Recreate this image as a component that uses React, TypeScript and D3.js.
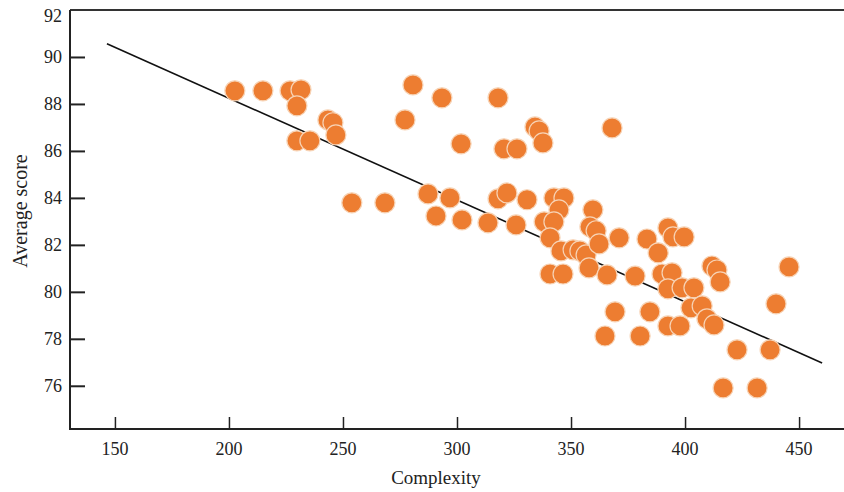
import React, { useEffect, useRef } from 'react';
import * as d3 from 'd3';

// Values, one entry per dot
const complexity = [
  202.6, 214.9, 226.8, 231.6, 229.8, 243.4, 245.6, 246.9, 229.8, 235.5,
  253.9, 268.4, 277.2, 280.7, 293.4, 318.0, 301.8, 320.6, 326.3, 334.2,
  336.0, 337.7, 368.0, 287.3, 296.9, 290.8, 302.2, 313.6, 318.0, 321.9,
  330.7, 342.5, 346.9, 344.7, 359.6, 325.9, 338.2, 342.5, 340.8, 345.6,
  350.9, 353.9, 356.6, 358.3, 361.0, 362.3, 371.1, 383.3, 388.2, 392.5,
  394.7, 399.6, 340.8, 346.5, 357.9, 365.8, 378.1, 389.9, 394.3, 392.5,
  398.7, 403.9, 411.8, 414.0, 415.4, 445.6, 369.3, 384.6, 392.5, 397.8,
  402.6, 407.5, 409.6, 412.7, 364.9, 380.3, 422.8, 437.3, 439.9, 416.7,
  431.6,
];
const avgScore = [
  88.56, 88.56, 88.56, 88.6, 87.92, 87.32, 87.2, 86.68, 86.43, 86.43,
  83.79, 83.79, 87.32, 88.81, 88.26, 88.26, 86.3, 86.09, 86.09, 87.02,
  86.85, 86.34, 86.98, 84.17, 84.0, 83.23, 83.06, 82.94, 83.96, 84.21,
  83.92, 84.0, 84.0, 83.49, 83.49, 82.85, 82.98, 82.98, 82.3, 81.74,
  81.79, 81.74, 81.57, 82.77, 82.6, 82.04, 82.3, 82.25, 81.66, 82.72,
  82.34, 82.34, 80.76, 80.76, 81.02, 80.72, 80.67, 80.76, 80.81, 80.13,
  80.17, 80.17, 81.1, 80.93, 80.42, 81.06, 79.15, 79.15, 78.55, 78.55,
  79.32, 79.4, 78.85, 78.59, 78.12, 78.12, 77.53, 77.53, 79.49, 75.91,
  75.91,
];

// Fitted line, start and end
const trendX = [146.5, 460.1];
const trendY = [90.56, 76.97];

const xTicks = [150, 200, 250, 300, 350, 400, 450];
const yTicks = [76, 78, 80, 82, 84, 86, 88, 90, 92];

const W = 844;
const H = 492;

const App = () => {
  const svgRef = useRef<SVGSVGElement | null>(null);

  useEffect(() => {
    if (!svgRef.current) return;
    const svg = d3.select(svgRef.current);
    svg.selectAll('*').remove();

    const left = 70, right = 844, top = 10, bottom = 429;
    const x = d3.scaleLinear().domain([130.3, 469.7]).range([left, right]);
    const y = d3.scaleLinear().domain([74.16, 92]).range([bottom, top]);

    const font = '"Liberation Serif", "Times New Roman", serif';
    const ink = '#222';

    // frame top line
    svg.append('line')
      .attr('x1', left).attr('x2', right)
      .attr('y1', top).attr('y2', top)
      .attr('stroke', '#333').attr('stroke-width', 2);

    // y axis
    const yAxis = svg.append('g').attr('transform', `translate(${left},0)`)
      .call(d3.axisRight(y).tickValues(yTicks.filter(v => v < 92)).tickSize(15).tickFormat(() => ''));
    yAxis.select('.domain').remove();
    yAxis.selectAll('line').attr('stroke', ink).attr('stroke-width', 2);
    svg.append('line')
      .attr('x1', left).attr('x2', left).attr('y1', top).attr('y2', bottom + 1)
      .attr('stroke', ink).attr('stroke-width', 2);

    svg.append('g').selectAll('text')
      .data(yTicks)
      .join('text')
      .attr('x', left - 8)
      .attr('y', d => Math.max(y(d), 16))
      .attr('dy', '0.35em')
      .attr('text-anchor', 'end')
      .style('font-family', font)
      .style('font-size', '18px')
      .attr('fill', ink)
      .text(d => d);

    // x axis
    const xAxis = svg.append('g').attr('transform', `translate(0,${bottom})`)
      .call(d3.axisTop(x).tickValues(xTicks).tickSize(12).tickFormat(() => ''));
    xAxis.select('.domain').remove();
    xAxis.selectAll('line').attr('stroke', ink).attr('stroke-width', 1.5);
    svg.append('line')
      .attr('x1', left - 1).attr('x2', right).attr('y1', bottom).attr('y2', bottom)
      .attr('stroke', ink).attr('stroke-width', 2);

    svg.append('g').selectAll('text')
      .data(xTicks)
      .join('text')
      .attr('x', d => x(d))
      .attr('y', bottom + 26)
      .attr('text-anchor', 'middle')
      .style('font-family', font)
      .style('font-size', '18px')
      .attr('fill', ink)
      .text(d => d);

    // axis titles
    svg.append('text')
      .attr('x', 436).attr('y', 484)
      .attr('text-anchor', 'middle')
      .style('font-family', font)
      .style('font-size', '19px')
      .attr('fill', ink)
      .text('Complexity');

    svg.append('text')
      .attr('transform', `translate(27,211) rotate(-90)`)
      .attr('text-anchor', 'middle')
      .style('font-family', font)
      .style('font-size', '20px')
      .attr('fill', ink)
      .text('Average score');

    // trend line
    const line = d3.line<number>()
      .x((d, i) => x(trendX[i]))
      .y(d => y(d));
    svg.append('path')
      .datum(trendY)
      .attr('d', line)
      .attr('fill', 'none')
      .attr('stroke', '#111')
      .attr('stroke-width', 1.6);

    // dots
    svg.append('g').selectAll('circle')
      .data(complexity.map((c, i) => [c, avgScore[i]]))
      .join('circle')
      .attr('cx', d => x(d[0]))
      .attr('cy', d => y(d[1]))
      .attr('r', 10)
      .attr('fill', '#ED7D31')
      .attr('stroke', '#F7D3B5')
      .attr('stroke-width', 1.2);
  }, []);

  return (
    <svg
      ref={svgRef}
      width={W}
      height={H}
      style={{ position: 'absolute', left: 0, top: 0, background: '#fff', display: 'block' }}
    />
  );
};

export default App;
